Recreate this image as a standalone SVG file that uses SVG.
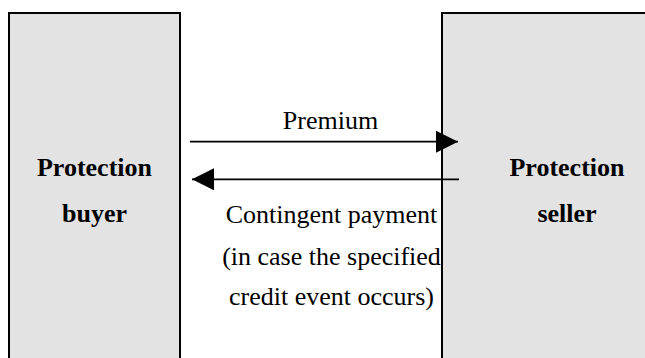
<svg xmlns="http://www.w3.org/2000/svg" width="645" height="358" viewBox="0 0 645 358">
  <style>
    .party { fill: #e3e3e3; stroke: #000; stroke-width: 2; }
    .name { font-family: "Liberation Serif", "Times New Roman", serif; font-size: 26px; font-weight: bold; fill: #000; text-anchor: middle; }
    .label { font-family: "Liberation Serif", "Times New Roman", serif; font-size: 26px; fill: #000; text-anchor: middle; }
    .flow { stroke: #000; stroke-width: 1.8; fill: none; }
  </style>
  <defs>
    <marker id="head" markerUnits="userSpaceOnUse" markerWidth="22" markerHeight="22" viewBox="0 0 20 20" refX="20" refY="10" orient="auto">
      <polygon points="0,0 20,10 0,20" fill="#000"/>
    </marker>
  </defs>
  <rect width="645" height="358" fill="#fff"/>

  <g id="buyer">
    <rect class="party" x="9" y="13" width="171" height="360"/>
    <text class="name" x="94.5" y="176">Protection</text>
    <text class="name" x="94.5" y="222">buyer</text>
  </g>

  <g id="seller">
    <rect class="party" x="442" y="13" width="220" height="360"/>
    <text class="name" x="567" y="176">Protection</text>
    <text class="name" x="567" y="222">seller</text>
  </g>

  <g id="connectors">
    <line class="flow" x1="190" y1="141.7" x2="458" y2="141.7" marker-end="url(#head)"/>
    <text class="label" x="330.5" y="129.3">Premium</text>
    <line class="flow" x1="459" y1="179.3" x2="192" y2="179.3" marker-end="url(#head)"/>
    <text class="label" x="331.5" y="223">Contingent payment</text>
    <text class="label" x="331.5" y="264.5">(in case the specified</text>
    <text class="label" x="331.5" y="305">credit event occurs)</text>
  </g>
</svg>
